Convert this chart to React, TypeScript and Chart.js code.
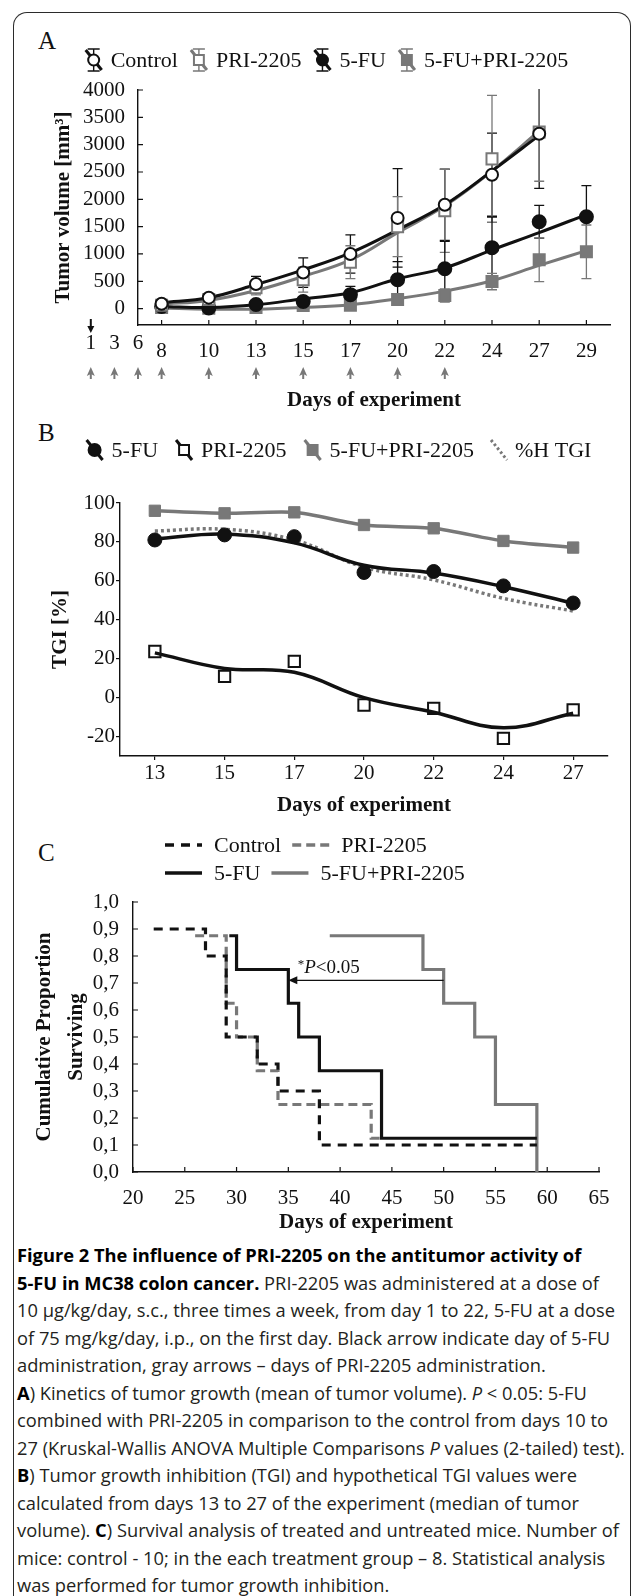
import React, { useEffect, useRef } from 'react';
import { Chart, registerables } from 'chart.js';

Chart.register(...registerables);

const SERIF = '"Liberation Serif", "Times New Roman", serif';
const INK = '#111111';
const GRAY = '#787878';
const FS = 21;
const LEGEND_FS = 22;

// ---------------- Panel A: tumour volume ----------------
const daysA = ['8', '10', '13', '15', '17', '20', '22', '24', '27', '29'];
const preDaysA = ['1', '3', '6'];
const fuDoseDays = ['1'];
const priDoseDays = ['1', '3', '6', '8', '10', '13', '15', '17', '20', '22'];
const ticksA = [0, 500, 1000, 1500, 2000, 2500, 3000, 3500, 4000];

const controlMean = [90, 200, 450, 660, 1000, 1660, 1900, 2450, 3200, null];
const controlSD = [30, 40, 140, 270, 350, 900, 650, 760, 1000, null];
const priMean = [60, 165, 380, 530, 850, 1500, 1790, 2740, 3230, null];
const priSD = [25, 30, 130, 230, 300, 550, 760, 1160, 900, null];
const fuMean = [40, 10, 75, 130, 255, 530, 730, 1115, 1590, 1680];
const fuSD = [20, 20, 40, 80, 150, 330, 500, 560, 300, 570];
const comboMean = [20, 5, 20, 55, 60, 165, 240, 495, 895, 1040];
const comboSD = [15, 15, 20, 40, 60, 100, 120, 150, 400, 490];

const controlFit = [110, 200, 440, 710, 1020, 1440, 1900, 2520, 3170, null];
const priFit = [80, 150, 330, 590, 890, 1390, 1880, 2520, 3250, null];
const fuFit = [40, 20, 70, 180, 290, 545, 745, 1075, 1390, 1720];
const comboFit = [10, -10, -10, 20, 70, 180, 320, 510, 790, 1060];

// ---------------- Panel B: TGI ----------------
const daysB = ['13', '15', '17', '20', '22', '24', '27'];
const ticksB = [-20, 0, 20, 40, 60, 80, 100];
const fuTGI = [81, 83.6, 82.7, 64.3, 64.8, 57.4, 48.6];
const fuTGIFit = [81.5, 84, 79.5, 68, 64, 57, 48.5];
const priTGI = [23.7, 10.9, 18.6, -3.8, -5.5, -20.9, -6.3];
const priTGIFit = [23, 15, 13, 0, -7.5, -15.5, -8];
const comboTGI = [96, 94.7, 95.2, 88.7, 87, 80.5, 77.1];
const hypotheticalTGI = [85.6, 86.5, 81, 67, 60.5, 51, 44.5];

// ---------------- Panel C: survival ----------------
const controlKMDays = [22, 27, 29, 32, 34, 38, 59];
const controlKMSurv = [0.9, 0.8, 0.5, 0.4, 0.3, 0.1, 0.1];
const priKMDays = [26, 29, 30, 32, 34, 43, 44];
const priKMSurv = [0.875, 0.625, 0.5, 0.375, 0.25, 0.125, 0.125];
const fuKMDays = [29.3, 30, 35, 36, 38, 44, 59];
const fuKMSurv = [0.875, 0.75, 0.625, 0.5, 0.375, 0.125, 0.125];
const comboKMDays = [39, 48, 50, 53, 55, 59];
const comboKMSurv = [0.875, 0.75, 0.625, 0.5, 0.25, 0];
const pComparison = { fromDay: 50, toDay: 35, level: 0.71, textDay: 35.9, textLevel: 0.755 };

const pts = (xs: number[], ys: number[]) => xs.map((x, i) => ({ x, y: ys[i] }));

// ---------------- helpers ----------------
type Icon = (ctx: CanvasRenderingContext2D, cx: number, cy: number) => void;
interface LegendItem { text: string; icon: Icon; iconW: number }
interface LegendRow { y: number; items: LegendItem[]; center?: number; left?: number }

function marker(ctx: CanvasRenderingContext2D, style: string, cx: number, cy: number, r: number, fill: string, stroke: string, lw: number) {
  ctx.save();
  ctx.setLineDash([]);
  ctx.lineWidth = lw;
  ctx.strokeStyle = stroke;
  ctx.fillStyle = fill;
  ctx.beginPath();
  if (style === 'circle') ctx.arc(cx, cy, r, 0, Math.PI * 2);
  else {
    const s = r * Math.SQRT1_2;
    ctx.rect(cx - s, cy - s, 2 * s, 2 * s);
  }
  ctx.fill();
  ctx.stroke();
  ctx.restore();
}

function glyphIcon(o: { style: string; fill: string; stroke: string; r: number; whisker: boolean; slash?: string; dash?: number[] }): Icon {
  return (ctx, cx, cy) => {
    ctx.save();
    ctx.strokeStyle = o.stroke;
    if (o.whisker) {
      ctx.lineWidth = 1.4;
      ctx.beginPath();
      ctx.moveTo(cx, cy - 11); ctx.lineTo(cx, cy + 11);
      ctx.moveTo(cx - 6, cy - 11); ctx.lineTo(cx + 6, cy - 11);
      ctx.moveTo(cx - 6, cy + 11); ctx.lineTo(cx + 6, cy + 11);
      ctx.stroke();
    }
    ctx.lineWidth = 3;
    ctx.strokeStyle = o.slash || o.stroke;
    if (o.dash) ctx.setLineDash(o.dash);
    ctx.beginPath();
    ctx.moveTo(cx - 8, cy - 10); ctx.lineTo(cx + 8, cy + 10);
    ctx.stroke();
    ctx.restore();
    if (o.style !== 'none') marker(ctx, o.style, cx, cy, o.r, o.fill, o.stroke, 2);
  };
}

function lineIcon(color: string, dash: number[], w: number): Icon {
  return (ctx, cx, cy) => {
    ctx.save();
    ctx.strokeStyle = color;
    ctx.lineWidth = 3.5;
    ctx.setLineDash(dash);
    ctx.beginPath();
    ctx.moveTo(cx - w / 2, cy); ctx.lineTo(cx + w / 2, cy);
    ctx.stroke();
    ctx.restore();
  };
}

function legendPlugin(id: string, rows: LegendRow[], gapIcon: number, gapItem: number) {
  return {
    id,
    afterDraw(chart: any) {
      const ctx: CanvasRenderingContext2D = chart.ctx;
      const font = `${LEGEND_FS}px ${SERIF}`;
      ctx.save();
      ctx.font = font;
      rows.forEach((row) => {
        const widths = row.items.map((it) => it.iconW + gapIcon + ctx.measureText(it.text).width);
        const total = widths.reduce((a, b) => a + b, 0) + gapItem * (row.items.length - 1);
        let x = row.center != null ? row.center - total / 2 : row.left || 0;
        row.items.forEach((it, k) => {
          it.icon(ctx, x + it.iconW / 2, row.y);
          ctx.font = font;
          ctx.fillStyle = INK;
          ctx.textAlign = 'left';
          ctx.textBaseline = 'middle';
          ctx.fillText(it.text, x + it.iconW + gapIcon, row.y + 1);
          x += widths[k] + gapItem;
        });
      });
      ctx.restore();
    },
  };
}

const errorBarPlugin = {
  id: 'errorBars',
  beforeDatasetsDraw(chart: any) {
    const { ctx, chartArea } = chart;
    const y = chart.scales.y;
    ctx.save();
    ctx.beginPath();
    ctx.rect(chartArea.left, chartArea.top - 1, chartArea.right - chartArea.left, chartArea.bottom - chartArea.top + 2);
    ctx.clip();
    chart.data.datasets.forEach((ds: any, i: number) => {
      const err = ds.errorBars;
      if (!err) return;
      const meta = chart.getDatasetMeta(i);
      ctx.strokeStyle = ds.errorColor;
      ctx.lineWidth = 1.3;
      meta.data.forEach((el: any, j: number) => {
        const v = ds.data[j];
        const e = err[j];
        if (v == null || e == null) return;
        const yt = y.getPixelForValue(v + e);
        const yb = y.getPixelForValue(v - e);
        ctx.beginPath();
        ctx.moveTo(el.x, yt); ctx.lineTo(el.x, yb);
        ctx.moveTo(el.x - 5, yt); ctx.lineTo(el.x + 5, yt);
        ctx.moveTo(el.x - 5, yb); ctx.lineTo(el.x + 5, yb);
        ctx.stroke();
      });
    });
    ctx.restore();
  },
};

function innerTicksPlugin(len: number) {
  return {
    id: 'innerTicks',
    afterDatasetsDraw(chart: any) {
      const { ctx } = chart;
      const x = chart.scales.x;
      const y = chart.scales.y;
      ctx.save();
      ctx.strokeStyle = INK;
      ctx.lineWidth = 1.2;
      ctx.beginPath();
      x.ticks.forEach((_t: any, i: number) => {
        const px = x.getPixelForTick(i);
        ctx.moveTo(px, x.top); ctx.lineTo(px, x.top - len);
      });
      y.ticks.forEach((_t: any, i: number) => {
        const py = y.getPixelForTick(i);
        ctx.moveTo(y.right, py); ctx.lineTo(y.right + len, py);
      });
      ctx.stroke();
      ctx.restore();
    },
  };
}

const baseTick = { font: { family: SERIF, size: FS }, color: INK };
const titleFont = { family: SERIF, size: FS, weight: 'bold' as const };
const border = { display: true, color: INK, width: 1.4 };

// ---------------- Panel A ----------------
function buildA() {
  const annotate = {
    id: 'annotateA',
    afterDraw(chart: any) {
      const { ctx, chartArea } = chart;
      const x = chart.scales.x;
      const step = x.getPixelForValue(1) - x.getPixelForValue(0);
      const dayPx = (d: string) => {
        const i = daysA.indexOf(d);
        if (i >= 0) return x.getPixelForValue(i);
        const k = preDaysA.indexOf(d);
        return x.getPixelForValue(0) + ((k - preDaysA.length) * step) / 2;
      };
      ctx.save();
      ctx.font = `${FS}px ${SERIF}`;
      ctx.fillStyle = INK;
      ctx.textAlign = 'center';
      ctx.textBaseline = 'middle';
      const labelY = x.top + 6 + (FS * 1.2) / 2;
      preDaysA.forEach((d) => ctx.fillText(d, dayPx(d), labelY));
      // black arrow: 5-FU administration
      fuDoseDays.forEach((d) => {
        const px = dayPx(d);
        const tip = chartArea.bottom + 8;
        ctx.strokeStyle = INK;
        ctx.lineWidth = 2;
        ctx.beginPath();
        ctx.moveTo(px, chartArea.bottom - 6); ctx.lineTo(px, tip - 4);
        ctx.stroke();
        ctx.beginPath();
        ctx.moveTo(px - 3.5, tip - 7); ctx.lineTo(px + 3.5, tip - 7); ctx.lineTo(px, tip);
        ctx.closePath();
        ctx.fill();
      });
      // gray arrows: PRI-2205 administration
      ctx.fillStyle = GRAY;
      ctx.strokeStyle = GRAY;
      priDoseDays.forEach((d) => {
        const px = dayPx(d);
        const tip = chartArea.bottom + 42;
        ctx.beginPath();
        ctx.moveTo(px, tip); ctx.lineTo(px + 4, tip + 9); ctx.lineTo(px, tip + 7); ctx.lineTo(px - 4, tip + 9);
        ctx.closePath();
        ctx.fill();
        ctx.lineWidth = 2;
        ctx.beginPath();
        ctx.moveTo(px, tip + 6); ctx.lineTo(px, tip + 12);
        ctx.stroke();
      });
      ctx.restore();
    },
  };

  const legend = legendPlugin('legendA', [
    {
      y: 20,
      center: 326,
      items: [
        { text: 'Control', iconW: 20, icon: glyphIcon({ style: 'circle', fill: '#fff', stroke: INK, r: 5.5, whisker: true }) },
        { text: 'PRI-2205', iconW: 20, icon: glyphIcon({ style: 'rect', fill: '#fff', stroke: GRAY, r: 7, whisker: true }) },
        { text: '5-FU', iconW: 20, icon: glyphIcon({ style: 'circle', fill: INK, stroke: INK, r: 5.5, whisker: true }) },
        { text: '5-FU+PRI-2205', iconW: 20, icon: glyphIcon({ style: 'rect', fill: GRAY, stroke: GRAY, r: 7, whisker: true }) },
      ],
    },
  ], 7, 11);

  const markerDs = (label: string, data: any[], sd: any[], style: string, fill: string, stroke: string, r: number) => ({
    label, data, errorBars: sd, errorColor: stroke, showLine: false,
    pointStyle: style, pointRadius: r, pointBackgroundColor: fill, pointBorderColor: stroke, pointBorderWidth: 2,
    borderColor: stroke, backgroundColor: fill,
  });
  const fitDs = (label: string, data: any[], color: string) => ({
    label, data, pointRadius: 0, borderColor: color, borderWidth: 3, tension: 0.4, fill: false,
  });

  return {
    type: 'line',
    data: {
      labels: daysA,
      datasets: [
        markerDs('Control', controlMean, controlSD, 'circle', '#fff', INK, 6),
        markerDs('PRI-2205', priMean, priSD, 'rect', '#fff', GRAY, 7.8),
        markerDs('5-FU', fuMean, fuSD, 'circle', INK, INK, 6.5),
        markerDs('5-FU+PRI-2205', comboMean, comboSD, 'rect', GRAY, GRAY, 7.8),
        fitDs('Control fit', controlFit, INK),
        fitDs('PRI-2205 fit', priFit, GRAY),
        fitDs('5-FU fit', fuFit, INK),
        fitDs('5-FU+PRI-2205 fit', comboFit, GRAY),
      ],
    },
    options: {
      responsive: false,
      animation: false,
      devicePixelRatio: 1,
      layout: { padding: { top: 50, right: 22, bottom: 0, left: 0 } },
      plugins: { legend: { display: false }, tooltip: { enabled: false } },
      scales: {
        x: {
          type: 'category', offset: true, grid: { display: false }, border,
          ticks: { ...baseTick, padding: 6, autoSkip: false, maxRotation: 0 },
          title: { display: true, text: 'Days of experiment', font: titleFont, color: INK, padding: { top: 0, bottom: 7 } },
          afterFit: (s: any) => { s.height = 95; },
        },
        y: {
          min: -300, max: 4000, grid: { display: false }, border,
          afterBuildTicks: (s: any) => { s.ticks = ticksA.map((v) => ({ value: v })); },
          ticks: { ...baseTick, padding: 5, autoSkip: false, callback: (v: number) => String(v) },
          title: { display: true, text: 'Tumor volume [mm³]', font: titleFont, color: INK, padding: { top: 51, bottom: 0 } },
          afterFit: (s: any) => { s.width = 138; },
        },
      },
    },
    plugins: [errorBarPlugin, innerTicksPlugin(5), annotate, legend],
  };
}

// ---------------- Panel B ----------------
function buildB() {
  const legend = legendPlugin('legendB', [
    {
      y: 30,
      center: 338,
      items: [
        { text: '5-FU', iconW: 20, icon: glyphIcon({ style: 'circle', fill: INK, stroke: INK, r: 6, whisker: false }) },
        { text: 'PRI-2205', iconW: 20, icon: glyphIcon({ style: 'rect', fill: '#fff', stroke: INK, r: 7, whisker: false }) },
        { text: '5-FU+PRI-2205', iconW: 20, icon: glyphIcon({ style: 'rect', fill: GRAY, stroke: GRAY, r: 7, whisker: false }) },
        { text: '%H TGI', iconW: 18, icon: glyphIcon({ style: 'none', fill: GRAY, stroke: GRAY, r: 0, whisker: false, dash: [2.5, 2.5] }) },
      ],
    },
  ], 7, 16);

  return {
    type: 'line',
    data: {
      labels: daysB,
      datasets: [
        { label: '5-FU', data: fuTGI, showLine: false, pointStyle: 'circle', pointRadius: 7, pointBackgroundColor: INK, pointBorderColor: INK, pointBorderWidth: 1 },
        { label: 'PRI-2205', data: priTGI, showLine: false, pointStyle: 'rect', pointRadius: 8, pointBackgroundColor: 'rgba(255,255,255,0)', pointBorderColor: INK, pointBorderWidth: 2 },
        { label: '5-FU+PRI-2205', data: comboTGI, pointStyle: 'rect', pointRadius: 8, pointBackgroundColor: GRAY, pointBorderColor: GRAY, pointBorderWidth: 1, borderColor: GRAY, borderWidth: 3.5, tension: 0.25, fill: false },
        { label: '5-FU fit', data: fuTGIFit, pointRadius: 0, borderColor: INK, borderWidth: 3.5, tension: 0.4, fill: false },
        { label: 'PRI-2205 fit', data: priTGIFit, pointRadius: 0, borderColor: INK, borderWidth: 3.5, tension: 0.4, fill: false },
        { label: '%H TGI', data: hypotheticalTGI, pointRadius: 0, borderColor: GRAY, borderWidth: 3.5, borderDash: [3, 3], tension: 0.4, fill: false },
      ],
    },
    options: {
      responsive: false,
      animation: false,
      devicePixelRatio: 1,
      layout: { padding: { top: 83, right: 24, bottom: 0, left: 0 } },
      plugins: { legend: { display: false }, tooltip: { enabled: false } },
      scales: {
        x: {
          type: 'category', offset: true, border,
          grid: { display: true, drawOnChartArea: false, drawTicks: true, tickLength: 4, color: INK, lineWidth: 1.2 },
          ticks: { ...baseTick, padding: 1, autoSkip: false, maxRotation: 0 },
          title: { display: true, text: 'Days of experiment', font: titleFont, color: INK, padding: { top: 0, bottom: 7 } },
          afterFit: (s: any) => { s.height = 69; },
        },
        y: {
          min: -30, max: 100, border,
          grid: { display: true, drawOnChartArea: false, drawTicks: true, tickLength: 4, color: INK, lineWidth: 1.2 },
          afterBuildTicks: (s: any) => { s.ticks = ticksB.map((v) => ({ value: v })); },
          ticks: { ...baseTick, padding: 1, autoSkip: false, callback: (v: number) => String(v) },
          title: { display: true, text: 'TGI [%]', font: titleFont, color: INK, padding: { top: 48, bottom: 0 } },
          afterFit: (s: any) => { s.width = 120; },
        },
      },
    },
    plugins: [legend],
  };
}

// ---------------- Panel C ----------------
function buildC() {
  const legend = legendPlugin('legendC', [
    {
      y: 15,
      left: 165,
      items: [
        { text: 'Control', iconW: 37, icon: lineIcon(INK, [9, 7], 37) },
        { text: 'PRI-2205', iconW: 37, icon: lineIcon(GRAY, [9, 5], 37) },
      ],
    },
    {
      y: 43,
      left: 165,
      items: [
        { text: '5-FU', iconW: 37, icon: lineIcon(INK, [], 37) },
        { text: '5-FU+PRI-2205', iconW: 37, icon: lineIcon(GRAY, [], 37) },
      ],
    },
  ], 12, 11);

  const annotate = {
    id: 'annotateC',
    afterDatasetsDraw(chart: any) {
      const { ctx } = chart;
      const x = chart.scales.x;
      const y = chart.scales.y;
      const x0 = x.getPixelForValue(pComparison.fromDay);
      const x1 = x.getPixelForValue(pComparison.toDay);
      const py = y.getPixelForValue(pComparison.level);
      ctx.save();
      ctx.strokeStyle = INK;
      ctx.fillStyle = INK;
      ctx.lineWidth = 1.3;
      ctx.beginPath();
      ctx.moveTo(x0, py); ctx.lineTo(x1 + 6, py);
      ctx.stroke();
      ctx.beginPath();
      ctx.moveTo(x1, py); ctx.lineTo(x1 + 9, py - 4); ctx.lineTo(x1 + 9, py + 4);
      ctx.closePath();
      ctx.fill();
      let tx = x.getPixelForValue(pComparison.textDay);
      const ty = y.getPixelForValue(pComparison.textLevel);
      ctx.textBaseline = 'middle';
      ctx.textAlign = 'left';
      ctx.font = `13px ${SERIF}`;
      ctx.fillText('*', tx, ty - 4);
      tx += ctx.measureText('*').width;
      ctx.font = `italic 19px ${SERIF}`;
      ctx.fillText('P', tx, ty);
      tx += ctx.measureText('P').width;
      ctx.font = `19px ${SERIF}`;
      ctx.fillText('<0.05', tx, ty);
      ctx.restore();
    },
  };

  const km = (label: string, xs: number[], ys: number[], color: string, dash: number[]) => ({
    label, data: pts(xs, ys), stepped: 'before', pointRadius: 0, borderColor: color, borderWidth: 3.2, borderDash: dash, fill: false,
  });

  return {
    type: 'line',
    data: {
      datasets: [
        km('5-FU', fuKMDays, fuKMSurv, INK, []),
        km('Control', controlKMDays, controlKMSurv, INK, [9, 7]),
        km('5-FU+PRI-2205', comboKMDays, comboKMSurv, GRAY, []),
        km('PRI-2205', priKMDays, priKMSurv, GRAY, [9, 5]),
      ],
    },
    options: {
      responsive: false,
      animation: false,
      devicePixelRatio: 1,
      layout: { padding: { top: 72, right: 33, bottom: 0, left: 0 } },
      plugins: { legend: { display: false }, tooltip: { enabled: false } },
      scales: {
        x: {
          type: 'linear', min: 20, max: 65, grid: { display: false }, border,
          ticks: { ...baseTick, stepSize: 5, padding: 6, maxRotation: 0, autoSkip: false },
          title: { display: true, text: 'Days of experiment', font: titleFont, color: INK, padding: { top: 0, bottom: 5 } },
          afterFit: (s: any) => { s.height = 68; },
        },
        y: {
          min: 0, max: 1, grid: { display: false }, border,
          ticks: { ...baseTick, stepSize: 0.1, padding: 6, autoSkip: false, callback: (v: number) => v.toFixed(1).replace('.', ',') },
          title: { display: true, text: ['Cumulative Proportion', 'Surviving'], font: { ...titleFont, lineHeight: '32px' }, color: INK, padding: { top: 29, bottom: 0 } },
          afterFit: (s: any) => { s.width = 133; },
        },
      },
    },
    plugins: [innerTicksPlugin(5), annotate, legend],
  };
}

const letterStyle = (top: number): React.CSSProperties => ({
  position: 'absolute', left: 38, top, fontFamily: SERIF, fontSize: 25, lineHeight: '25px', color: INK,
});

export default function App() {
  const refA = useRef<HTMLCanvasElement>(null);
  const refB = useRef<HTMLCanvasElement>(null);
  const refC = useRef<HTMLCanvasElement>(null);

  useEffect(() => {
    const a = new Chart(refA.current as HTMLCanvasElement, buildA() as any);
    const b = new Chart(refB.current as HTMLCanvasElement, buildB() as any);
    const c = new Chart(refC.current as HTMLCanvasElement, buildC() as any);
    return () => { a.destroy(); b.destroy(); c.destroy(); };
  }, []);

  return (
    <div style={{ position: 'relative', width: 632, height: 1596, background: '#fff', overflow: 'hidden' }}>
      <style>{'body{margin:0;}'}</style>
      <div style={{ position: 'absolute', left: 13, top: 12, width: 618, height: 1700, border: '1.6px solid #2b2b2b', borderBottom: 'none', borderRadius: '14px 14px 0 0', boxSizing: 'border-box' }} />
      <div style={letterStyle(28)}>A</div>
      <div style={letterStyle(420)}>B</div>
      <div style={letterStyle(840)}>C</div>
      <canvas ref={refA} width={632} height={380} style={{ position: 'absolute', left: 0, top: 40 }} />
      <canvas ref={refB} width={632} height={405} style={{ position: 'absolute', left: 0, top: 420 }} />
      <canvas ref={refC} width={632} height={410} style={{ position: 'absolute', left: 0, top: 830 }} />
      <div style={{ position: 'absolute', left: 17, top: 1241, width: 612, fontFamily: '"Open Sans", "Noto Sans", sans-serif', fontSize: 18.3, lineHeight: '27.5px', color: '#231f20', whiteSpace: 'nowrap' }}>
        <b style={{ color: '#000' }}>Figure 2 The influence of PRI-2205 on the antitumor activity of</b><br />
        <b style={{ color: '#000' }}>5-FU in MC38 colon cancer.</b> PRI-2205 was administered at a dose of<br />
        10 µg/kg/day, s.c., three times a week, from day 1 to 22, 5-FU at a dose<br />
        of 75 mg/kg/day, i.p., on the first day. Black arrow indicate day of 5-FU<br />
        administration, gray arrows – days of PRI-2205 administration.<br />
        <b style={{ color: '#000' }}>A</b>) Kinetics of tumor growth (mean of tumor volume). <i>P</i> &lt; 0.05: 5-FU<br />
        combined with PRI-2205 in comparison to the control from days 10 to<br />
        27 (Kruskal-Wallis ANOVA Multiple Comparisons <i>P</i> values (2-tailed) test).<br />
        <b style={{ color: '#000' }}>B</b>) Tumor growth inhibition (TGI) and hypothetical TGI values were<br />
        calculated from days 13 to 27 of the experiment (median of tumor<br />
        volume). <b style={{ color: '#000' }}>C</b>) Survival analysis of treated and untreated mice. Number of<br />
        mice: control - 10; in the each treatment group – 8. Statistical analysis<br />
        was performed for tumor growth inhibition.
      </div>
    </div>
  );
}
